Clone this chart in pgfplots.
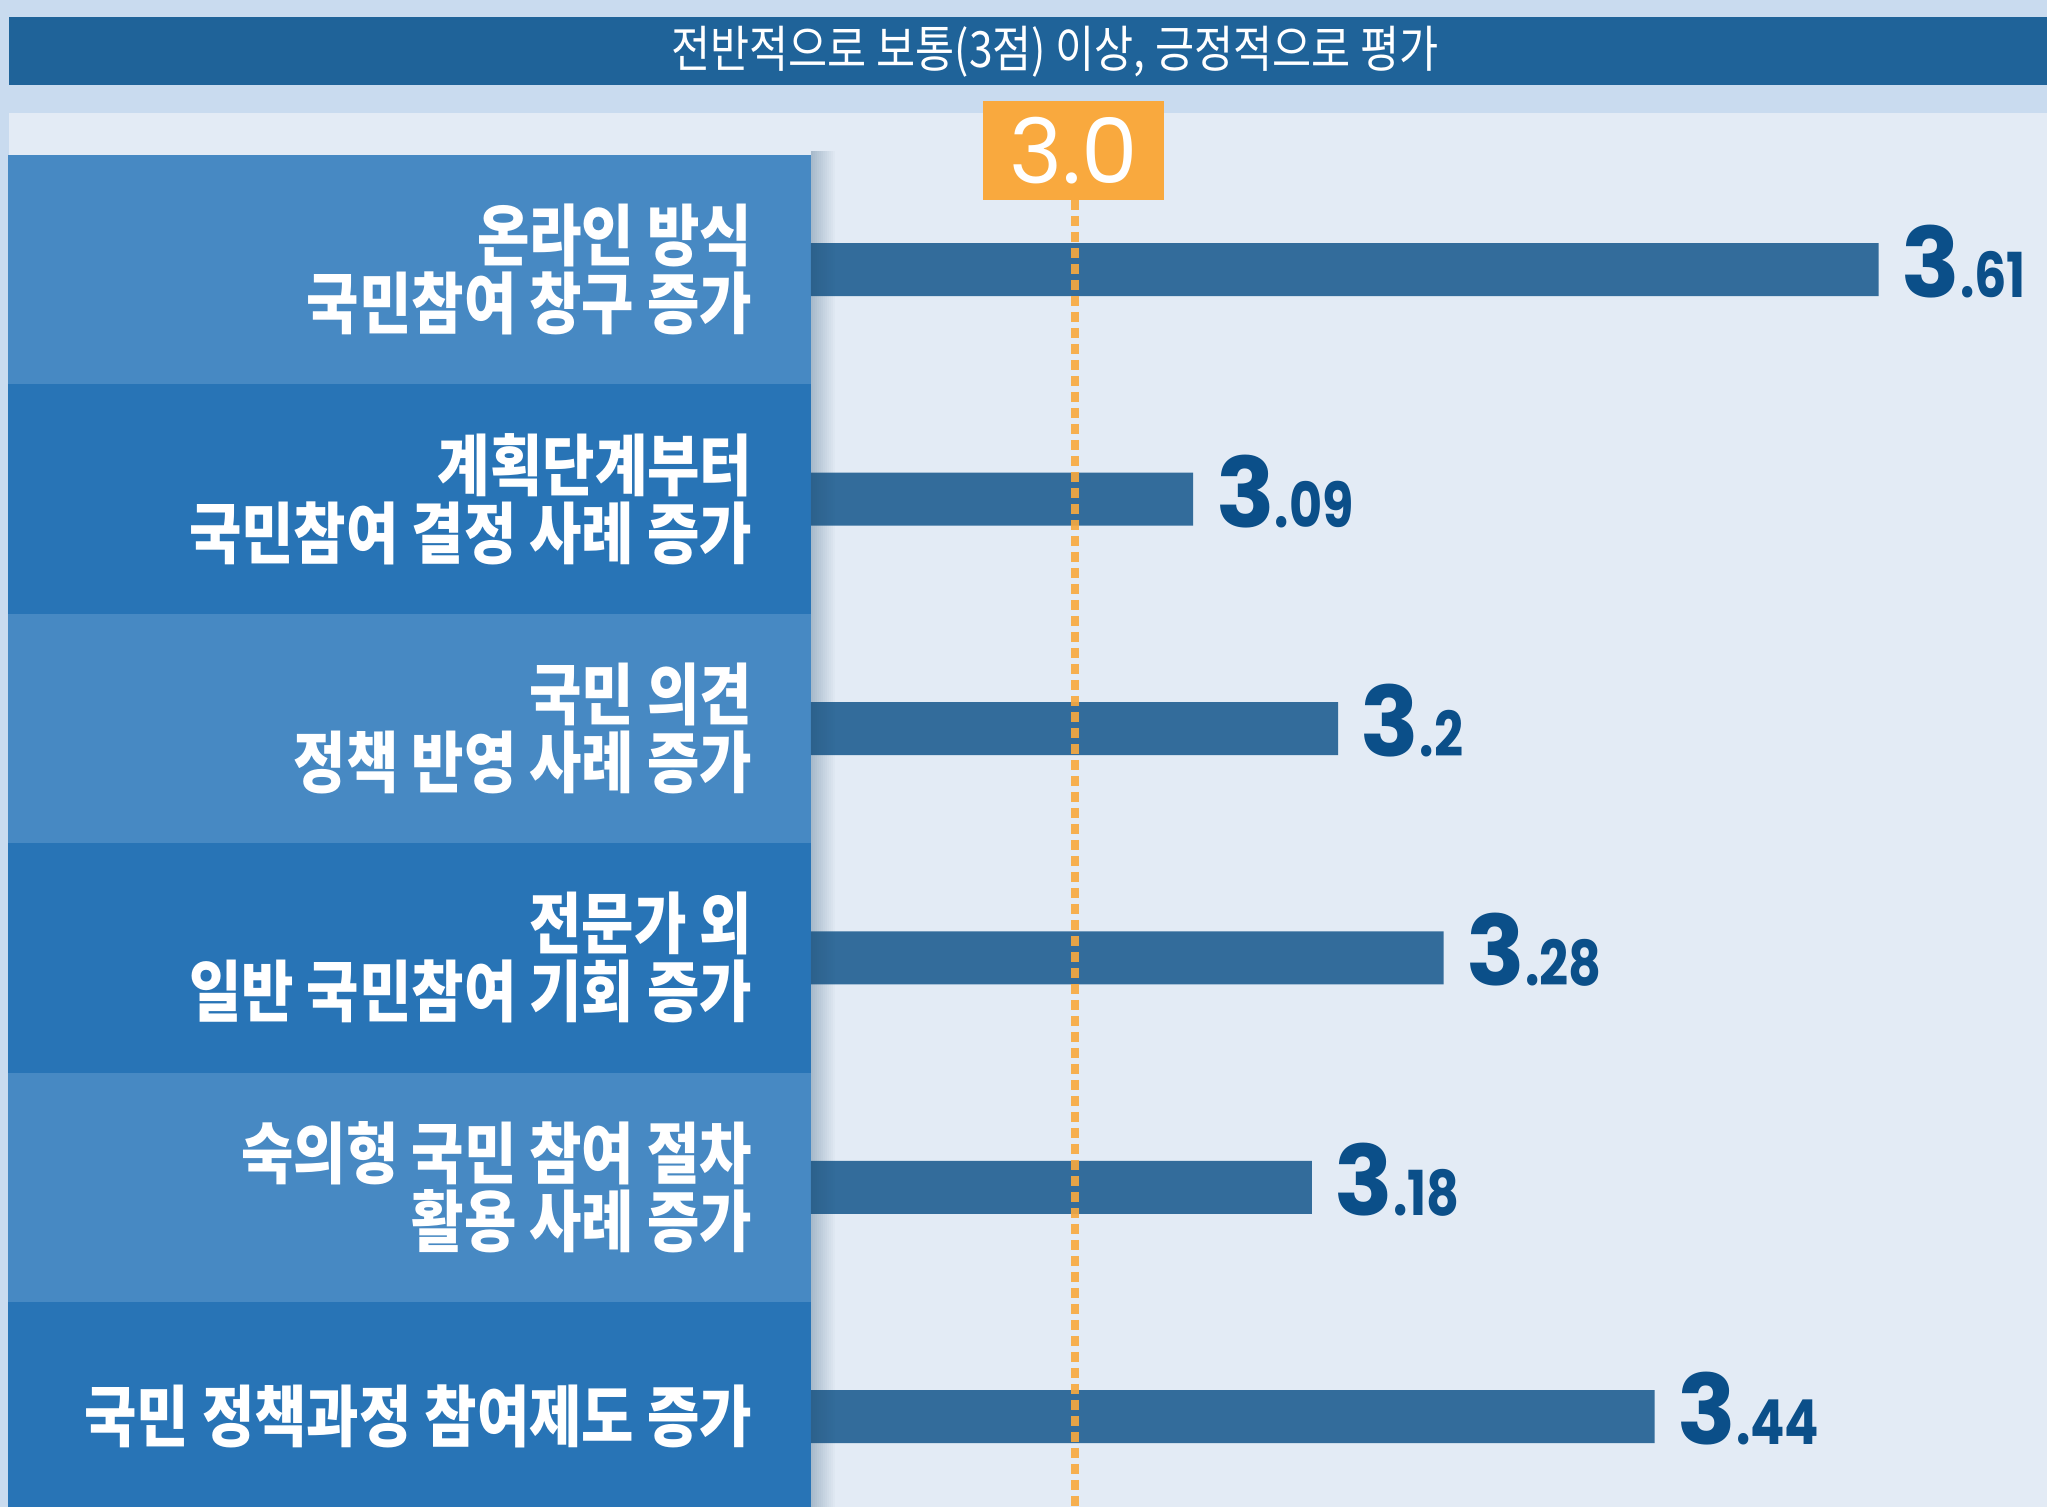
\documentclass[border=0pt]{standalone}
\usepackage{pgfplots}
\pgfplotsset{compat=1.18}
\usepackage{fontspec}
\newfontfamily\kr{Noto Sans CJK KR}[FakeStretch=0.85]
\newfontfamily\pop{Poppins}
\newfontfamily\popn{Poppins}[FakeStretch=0.82]
\definecolor{topbg}{HTML}{C9DBEF}
\definecolor{hdr}{HTML}{1F6399}
\definecolor{plotbg}{HTML}{E3EBF5}
\definecolor{bandA}{HTML}{4789C3}
\definecolor{bandB}{HTML}{2874B6}
\definecolor{barc}{HTML}{336C9B}
\definecolor{valc}{HTML}{0B4F89}
\definecolor{orng}{HTML}{F9A93E}
\definecolor{shad}{HTML}{1F4A6A}
\begin{document}
\begin{tikzpicture}[x=0.25pt,y=0.25pt]
\path[use as bounding box] (0,0) rectangle (2047,1507);
\fill[topbg] (0,0) rectangle (2047,1507);
\fill[hdr] (9,1422) rectangle (2047,1490);
\node[text=white, font=\kr\fontsize{12.5pt}{14pt}\selectfont, inner sep=0pt] at (1055,1455) {전반적으로 보통(3점) 이상, 긍정적으로 평가};
\fill[plotbg] (9,0) rectangle (2047,1394);
\fill[bandA] (8,1352) rectangle (811,1122.6);
\fill[bandB] (8,1122.6) rectangle (811,893.2);
\fill[bandA] (8,893.2) rectangle (811,663.8);
\fill[bandB] (8,663.8) rectangle (811,434.4);
\fill[bandA] (8,434.4) rectangle (811,205);
\fill[bandB] (8,205) rectangle (811,0);
\begin{axis}[
  at={(202.75pt,0pt)}, anchor=south west,
  scale only axis, width=309pt, height=338pt,
  xmin=2.8, xmax=3.7378, ymin=-0.5, ymax=5.3937,
  y dir=reverse,
  axis line style={draw=none},
  tick style={draw=none},
  major tick length=0pt,
  xtick=\empty,
  ytick={0,1,2,3,4,5},
  yticklabels={{온라인 방식\\국민참여 창구 증가},{계획단계부터\\국민참여 결정 사례 증가},{국민 의견\\정책 반영 사례 증가},{전문가 외\\일반 국민참여 기회 증가},{숙의형 국민 참여 절차\\활용 사례 증가},{국민 정책과정 참여제도 증가}},
  yticklabel style={font=\kr\bfseries\fontsize{16.75pt}{17pt}\selectfont, text=white, align=right, anchor=east, inner sep=0pt, xshift=-14.5pt},
]
\addplot[xbar, fill=barc, draw=none, bar width=13.25pt,
  point meta=explicit symbolic,
  nodes near coords={\pop\bfseries\fontsize{24.25pt}{24pt}\selectfont 3\popn\bfseries\fontsize{15.5pt}{15pt}\selectfont.\pgfplotspointmeta},
  every node near coord/.append style={anchor=base west, xshift=5.5pt, yshift=-7pt, inner sep=0pt, text=valc}]
  coordinates {(3.61,0) [61] (3.09,1) [09] (3.2,2) [2] (3.28,3) [28] (3.18,4) [18] (3.44,5) [44]};
\addplot[orng, opacity=0.9, line width=2pt, dash pattern=on 2.5pt off 1.5pt] coordinates {(3,-0.304) (3,5.3937)};
\end{axis}
\foreach \i in {0,...,11}{
  \pgfmathsetmacro\op{0.3*(1-\i/12)}
  \fill[shad, fill opacity=\op] ({811+2*\i},0) rectangle ({813+2*\i},1356);
}
\node[fill=orng, minimum width=45.25pt, minimum height=24.75pt, inner sep=0pt, text=white, font=\pop\fontsize{22.5pt}{22.5pt}\selectfont] at (1073.5,1356) {3.0};
\end{tikzpicture}
\end{document}
